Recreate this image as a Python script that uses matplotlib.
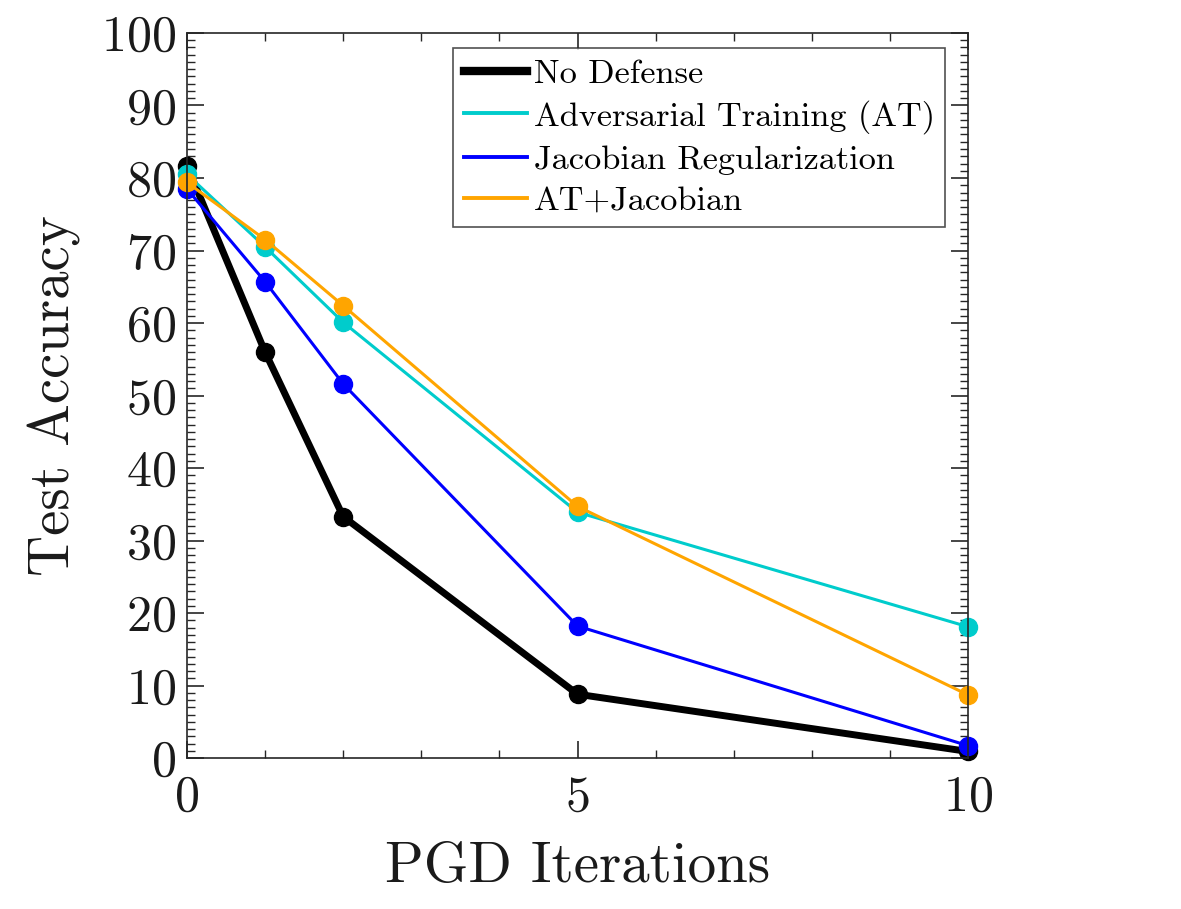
import matplotlib
matplotlib.use("Agg")
import matplotlib.pyplot as plt
from matplotlib.lines import Line2D
from matplotlib.ticker import MultipleLocator

plt.rcParams['font.family'] = ['cmr10', 'DejaVu Sans']
plt.rcParams['mathtext.fontset'] = 'cm'
plt.rcParams['axes.formatter.use_mathtext'] = True

iterations = [0, 1, 2, 5, 10]
series_names = ["No Defense", "Adversarial Training (AT)", "Jacobian Regularization", "AT+Jacobian"]
no_defense = [81.7, 56.0, 33.3, 8.8, 0.9]
adv_training = [80.5, 70.5, 60.1, 33.9, 18.1]
jacobian = [78.5, 65.7, 51.6, 18.2, 1.7]
at_jacobian = [79.4, 71.5, 62.4, 34.7, 8.7]
colors = ["#000000", "#00CCCC", "#0000FF", "#FFA500"]
widths = [5.0, 2.2, 2.2, 2.2]

fig = plt.figure(figsize=(11.81, 9.09), dpi=100)
ax = fig.add_axes([0.1583, 0.1661, 0.8197 - 0.1583, 0.9637 - 0.1661])

data = [no_defense, adv_training, jacobian, at_jacobian]
handles = []
for name, vals, c, lw in zip(series_names, data, colors, widths):
    ax.plot(iterations, vals, color=c, lw=lw, marker='o', markersize=13,
            markeredgecolor=c, markerfacecolor=c, clip_on=False, solid_joinstyle='round')
    handles.append(Line2D([0], [0], color=c, lw=lw + 1.0 if lw > 3 else lw + 0.6))

ax.set_xlim(0, 10)
ax.set_ylim(0, 100)
ax.xaxis.set_major_locator(MultipleLocator(5))
ax.xaxis.set_minor_locator(MultipleLocator(1))
ax.yaxis.set_major_locator(MultipleLocator(10))
ax.yaxis.set_minor_locator(MultipleLocator(1))

axis_col = "#262626"
for sp in ax.spines.values():
    sp.set_color(axis_col)
    sp.set_linewidth(1.2)
ax.tick_params(which='both', direction='in', top=True, right=True, colors=axis_col,
               labelcolor='#1a1a1a')
ax.tick_params(which='major', length=12, width=1.2, labelsize=36, pad=8)
ax.tick_params(axis='x', which='major', pad=12)
ax.tick_params(which='minor', length=6, width=1.0)

ax.set_xlabel("PGD Iterations", fontsize=41, color='#1a1a1a', labelpad=15)
ax.set_ylabel("Test Accuracy", fontsize=41, color='#1a1a1a', labelpad=14)

leg = ax.legend(handles, series_names, loc='upper right', fontsize=24.7,
                frameon=True, fancybox=False, edgecolor='#262626',
                handlelength=1.85, handletextpad=0.2, borderpad=0.3,
                labelspacing=0.33, borderaxespad=0.0,
                bbox_to_anchor=(0.971, 0.979))
leg.get_frame().set_linewidth(1.2)

fig.savefig("out.png", dpi=100)
